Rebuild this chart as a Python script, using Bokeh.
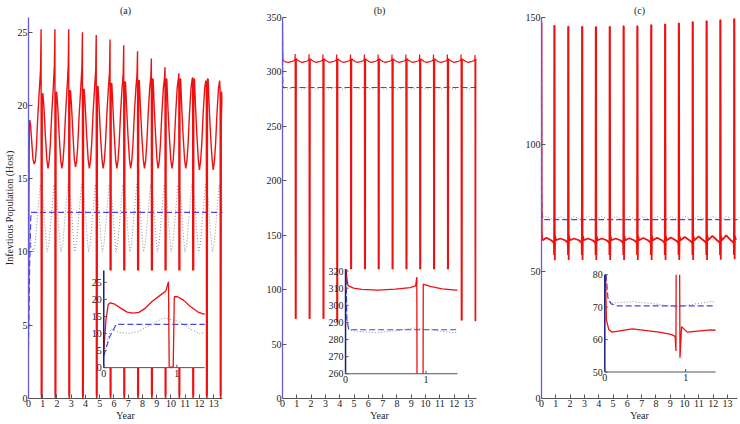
import math
from bokeh.plotting import figure
from bokeh.models import Range1d, FixedTicker
from bokeh.layouts import row
from bokeh.core.properties import value
from bokeh.embed import file_html
from bokeh.resources import INLINE

NAN = float("nan")

# ---------------- data ----------------
PULSE_T = [0.92, 1.89, 2.86, 3.82, 4.79, 5.76, 6.72, 7.69, 8.66, 9.62, 10.59, 11.56, 12.52, 13.49]
X_TICKS = list(range(14))

# panel (a)
A_Y_TICKS = [0, 5, 10, 15, 20, 25]
A_IN_Y_TICKS = [0, 5, 10, 15, 20, 25]
A_RED_START_X = [0.0, 0.03, 0.06, 0.09, 0.15, 0.22]
A_RED_START_Y = [5.0, 14.0, 18.5, 19.0, 18.6, 17.6]
A_TROUGH = [16.0, 15.7, 15.7, 15.8, 15.7, 15.7, 15.7, 15.7, 15.7, 15.7, 15.7, 15.7, 15.6, 15.6]
A_PRE = [22.5, 22.8, 22.7, 22.6, 22.4, 22.3, 22.2, 22.1, 22.0, 21.9, 21.8, 21.8, 21.7, 21.7]
A_TOP = [25.2, 25.2, 25.2, 25.0, 24.8, 24.5, 24.1, 23.7, 23.2, 22.6, 22.2, 21.9, 21.5, 21.0]
A_REC = [20.8, 20.9, 21.0, 21.1, 21.3, 21.5, 21.6, 21.7, 21.8, 21.8, 21.8, 21.8, 21.8, 20.9]
A_RED_FEATS = [(-0.60, 16.3), (-0.52, A_TROUGH), (-0.44, 16.2), (-0.36, 17.3), (-0.26, 19.4),
               (-0.15, 21.2), (-0.07, A_PRE), (-0.035, A_TOP), (-0.025, 0.3), (0.0, 0.0),
               (0.03, 0.3), (0.045, A_REC), (0.09, A_REC), (0.17, 19.8), (0.26, 18.0)]
A_BLUE_X = [0.0, 0.08, 0.17, 13.7]
A_BLUE_Y = [3.5, 9.0, 12.7, 12.7]
A_DOT_START_X = [0.0, 0.05, 0.10, 0.20]
A_DOT_START_Y = [3.0, 8.0, 11.4, 10.4]
A_DOT_FEATS = [(-0.58, 10.0), (-0.45, 10.6), (-0.30, 12.3), (-0.10, 14.6), (0.10, 13.6), (0.25, 11.5)]

# panel (b)
B_Y_TICKS = [0, 50, 100, 150, 200, 250, 300, 350]
B_IN_Y_TICKS = [260, 270, 280, 290, 300, 310, 320]
B_RED_START_X = [0.0, 0.01, 0.03, 0.10, 0.20]
B_RED_START_Y = [345.0, 318.0, 311.5, 310.0, 309.3]
B_TOP = [316.5, 316.2, 316.0, 316.0, 316.0, 316.0, 316.0, 316.0, 316.0, 316.0, 316.0, 316.0, 316.0, 315.5]
B_BOT = [73.5, 73.5, 73.5, 70.5, 73.0, 73.0, 73.0, 73.0, 73.0, 73.0, 73.0, 73.0, 72.0, 71.5]
B_REC = [312.3, 312.2, 312.2, 312.2, 312.2, 312.2, 312.2, 312.2, 312.2, 312.2, 312.2, 312.2, 312.0, 311.8]
B_RED_FEATS = [(-0.52, 308.8), (-0.30, 309.4), (-0.12, 310.3), (-0.05, 311.3), (-0.035, B_TOP),
               (-0.025, B_BOT), (0.035, B_BOT), (0.045, B_REC), (0.13, 311.0), (0.28, 309.6)]
B_BLUE_X = [0.0, 0.015, 0.04, 13.7]
B_BLUE_Y = [345.0, 292.0, 285.7, 285.7]
B_DOT_START_X = [0.0, 0.015, 0.04, 0.15]
B_DOT_START_Y = [345.0, 295.0, 285.5, 284.8]
B_DOT_FEATS = [(-0.55, 284.0), (-0.30, 285.0), (-0.08, 286.7), (0.15, 285.6)]

# panel (c)
C_Y_TICKS = [0, 50, 100, 150]
C_IN_Y_TICKS = [50, 60, 70, 80]
C_RED_START_X = [0.0, 0.008, 0.02, 0.05, 0.09]
C_RED_START_Y = [148.0, 80.0, 66.0, 63.0, 62.3]
C_ARCH = [63.3, 63.0, 63.0, 63.0, 63.0, 63.0, 63.1, 63.2, 63.3, 63.4, 63.6, 63.8, 64.0, 64.2]
C_TOP = [146.8, 146.4, 146.4, 146.3, 146.4, 146.6, 146.6, 147.0, 147.3, 147.7, 148.2, 148.6, 149.0, 149.4]
C_BOT = [54.4, 54.5, 54.5, 54.5, 54.5, 54.5, 54.5, 54.5, 54.5, 54.5, 54.5, 54.5, 54.6, 54.8]
C_RED_FEATS = [(-0.58, C_ARCH), (-0.25, 62.3), (-0.10, 61.6), (-0.05, 61.0), (-0.04, 56.5),
               (-0.03, C_TOP), (-0.005, C_TOP), (0.01, C_BOT), (0.03, 64.0), (0.10, 62.3)]
C_BLUE_X = [0.0, 0.015, 0.04, 0.08, 0.15, 13.8]
C_BLUE_Y = [148.0, 80.0, 72.5, 71.0, 70.4, 70.4]
C_DOT_START_X = [0.0, 0.015, 0.03, 0.08]
C_DOT_START_Y = [148.0, 80.0, 73.5, 71.2]
C_DOT_FEATS = [(-0.58, 71.7), (-0.30, 71.0), (-0.05, 70.0), (0.10, 70.6)]

RED = "#ee1111"
BLUE = "#4646e6"
DOT = "#8c8c9c"
AXIS = "#555555"
YAXIS_MAIN = "#6a5ad2"
YAXIS_INSET = "#1c1c7a"
FONT = "Liberation Serif"
FS = "10px"

H = 423
TOP = 17
BOTTOM = 22


def build(start_x, start_y, feats, pulses):
    xs, ys = list(start_x), list(start_y)
    for i, p in enumerate(pulses):
        for dt, v in feats:
            xs.append(p + dt)
            ys.append(v[i] if isinstance(v, list) else v)
    return xs, ys


def clip_poly(xs, ys, x0, x1, y0, y1):
    ox, oy = [], []
    last = None
    for i in range(len(xs) - 1):
        ax, ay, bx, by = xs[i], ys[i], xs[i + 1], ys[i + 1]
        dx, dy = bx - ax, by - ay
        t0, t1 = 0.0, 1.0
        ok = True
        for pp, qq in ((-dx, ax - x0), (dx, x1 - ax), (-dy, ay - y0), (dy, y1 - ay)):
            if pp == 0:
                if qq < 0:
                    ok = False
                    break
            else:
                r = qq / pp
                if pp < 0:
                    if r > t1:
                        ok = False
                        break
                    t0 = max(t0, r)
                else:
                    if r < t0:
                        ok = False
                        break
                    t1 = min(t1, r)
        if not ok:
            continue
        sx, sy = ax + t0 * dx, ay + t0 * dy
        ex, ey = ax + t1 * dx, ay + t1 * dy
        if last is None or abs(last[0] - sx) > 1e-9 or abs(last[1] - sy) > 1e-9:
            if ox:
                ox.append(NAN)
                oy.append(NAN)
            ox.append(sx)
            oy.append(sy)
        ox.append(ex)
        oy.append(ey)
        last = (ex, ey)
    return ox, oy


def make_panel(title, W, bl, br, xmax, ylo, yhi, yticks, ylabel, red, blue, dot, inset, red_w):
    p = figure(width=W, height=H, x_range=Range1d(0, xmax), y_range=Range1d(ylo, yhi),
               output_backend="svg", toolbar_location=None, title=title,
               min_border_left=bl, min_border_right=br, min_border_top=TOP, min_border_bottom=BOTTOM)
    p.title.align = "center"
    p.title.text_font = FONT
    p.title.text_font_size = FS
    p.title.text_font_style = "normal"
    p.title.text_color = "#222222"
    p.title.standoff = 4
    p.outline_line_color = None
    p.xgrid.visible = False
    p.ygrid.visible = False
    p.background_fill_color = "white"
    p.border_fill_color = "white"
    for ax in (p.xaxis[0], p.yaxis[0]):
        ax.major_tick_in = 4
        ax.major_tick_out = 0
        ax.minor_tick_line_color = None
        ax.major_label_text_font = FONT
        ax.major_label_text_font_size = FS
        ax.major_label_text_color = "#222222"
        ax.axis_label_text_font = FONT
        ax.axis_label_text_font_size = FS
        ax.axis_label_text_font_style = "normal"
        ax.axis_label_text_color = "#222222"
        ax.major_tick_line_color = AXIS
    p.xaxis.ticker = FixedTicker(ticks=X_TICKS)
    p.yaxis.ticker = FixedTicker(ticks=yticks)
    p.xaxis.axis_label = "Year"
    p.xaxis.axis_line_color = AXIS
    p.xaxis.major_label_standoff = 1
    p.xaxis.axis_label_standoff = 0
    p.yaxis.axis_line_color = YAXIS_MAIN
    p.yaxis.axis_line_width = 1.3
    p.yaxis.major_label_standoff = 1
    p.yaxis.axis_label_standoff = 0
    if ylabel:
        p.yaxis.axis_label = ylabel

    p.line(dot[0], dot[1], color=DOT, line_width=1, line_dash="1 2")
    p.line(blue[0], blue[1], color=BLUE, line_width=1.2, line_dash="6 3")
    p.line(red[0], red[1], color=RED, line_width=red_w)

    fx0, fx1, fy0, fy1, ix1, iy0, iy1, iyticks = inset
    sx = ix1 / (fx1 - fx0)
    xs0 = -fx0 * sx
    sy = (iy1 - iy0) / (fy1 - fy0)
    ys0 = iy0 - fy0 * sy
    p.extra_x_ranges = {"ix": Range1d(xs0, xs0 + sx)}
    p.extra_y_ranges = {"iy": Range1d(ys0, ys0 + sy)}
    kw = dict(x_range_name="ix", y_range_name="iy")
    p.quad(left=[0], right=[ix1], bottom=[iy0], top=[iy1], fill_color="white", line_color=None, **kw)
    dx_, dy_ = clip_poly(dot[0], dot[1], 0, ix1, iy0, iy1)
    p.line(dx_, dy_, color=DOT, line_width=1, line_dash="1 2", **kw)
    bx_, by_ = clip_poly(blue[0], blue[1], 0, ix1, iy0, iy1)
    p.line(bx_, by_, color=BLUE, line_width=1.2, line_dash="6 3", **kw)
    rx_, ry_ = clip_poly(red[0], red[1], 0, ix1, iy0, iy1)
    p.line(rx_, ry_, color=RED, line_width=1.3, **kw)
    # inset axes
    p.line([0, ix1], [iy0, iy0], color=AXIS, line_width=1, **kw)
    p.line([0, 0], [iy0, iy1], color=YAXIS_INSET, line_width=1.5, **kw)
    p.ray(x=[0, 1], y=[iy0, iy0], length=3, length_units="screen", angle=math.pi / 2,
          color=AXIS, line_width=1, **kw)
    p.ray(x=[0] * len(iyticks), y=iyticks, length=3, length_units="screen", angle=0,
          color=AXIS, line_width=1, **kw)
    p.text(x=[0, 1], y=[iy0, iy0], text=["0", "1"], y_offset=2, text_align="center",
           text_baseline="top", text_font=value(FONT), text_font_size=value(FS),
           text_color="#222222", **kw)
    p.text(x=[0] * len(iyticks), y=iyticks, text=[str(t) for t in iyticks], x_offset=-2,
           text_align="right", text_baseline="middle", text_font=value(FONT),
           text_font_size=value(FS), text_color="#222222", **kw)
    return p


a_red = build(A_RED_START_X, A_RED_START_Y, A_RED_FEATS, PULSE_T)
a_dot = build(A_DOT_START_X, A_DOT_START_Y, A_DOT_FEATS, PULSE_T)
b_red = build(B_RED_START_X, B_RED_START_Y, B_RED_FEATS, PULSE_T)
b_dot = build(B_DOT_START_X, B_DOT_START_Y, B_DOT_FEATS, PULSE_T)
c_red = build(C_RED_START_X, C_RED_START_Y, C_RED_FEATS, PULSE_T)
c_dot = build(C_DOT_START_X, C_DOT_START_Y, C_DOT_FEATS, PULSE_T)

pa = make_panel("(a)", 240, 26, 18, 13.62, 0, 26, A_Y_TICKS, "Infevtious Population (Host)",
                a_red, (A_BLUE_X, A_BLUE_Y), a_dot,
                (0.388, 0.908, 0.081, 0.336, 1.38, 0, 28.5, A_IN_Y_TICKS), 1.4)
pb = make_panel("(b)", 254, 42, 18, 13.56, 0, 350, B_Y_TICKS, None,
                b_red, (B_BLUE_X, B_BLUE_Y), b_dot,
                (0.325, 0.902, 0.065, 0.339, 1.39, 260, 321, B_IN_Y_TICKS), 1.2)
pc = make_panel("(c)", 245, 47, 2, 13.7, 0, 150, C_Y_TICKS, None,
                c_red, (C_BLUE_X, C_BLUE_Y), c_dot,
                (0.323, 0.888, 0.0695, 0.325, 1.37, 50, 80, C_IN_Y_TICKS), 1.8)

layout = row(pa, pb, pc)
open("out.html", "w").write(file_html(layout, INLINE))
